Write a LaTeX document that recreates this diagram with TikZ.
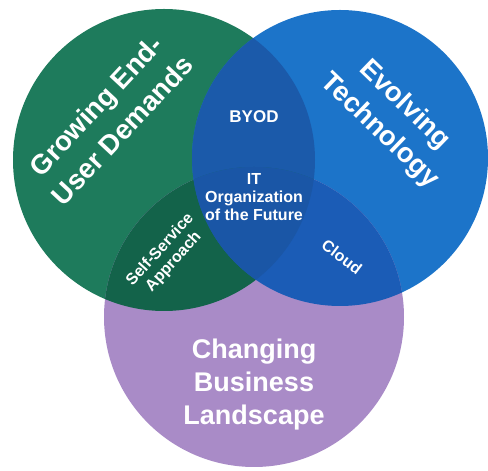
\documentclass[tikz,border=0pt]{standalone}
\usepackage{fontspec}
\setmainfont{Liberation Sans}

\definecolor{demandgreen}{HTML}{1E7B5C}
\definecolor{techblue}{HTML}{1C74C9}
\definecolor{businesspurple}{HTML}{A98BC7}
\definecolor{byodblue}{HTML}{1B5AAA}
\definecolor{selfgreen}{HTML}{13634A}
\definecolor{cloudblue}{HTML}{1B5CB6}
\definecolor{futureblue}{HTML}{1A56A6}

\begin{document}
\begin{tikzpicture}[x=1pt,y=1pt,
		biglabel/.style={text=white, font=\bfseries\fontsize{27}{33}\selectfont, align=center},
		tiltlabel/.style={text=white, font=\bfseries\fontsize{27.5}{36}\selectfont, align=center},
		smalllabel/.style={text=white, font=\bfseries\fontsize{16}{18}\selectfont, align=center}]
		\useasboundingbox (0,0) rectangle (488,471);

		\coordinate (green) at (164,311);
		\coordinate (blue) at (340,313);
		\coordinate (purple) at (254,154);

		\fill[demandgreen] (green) circle (151pt);
		\fill[techblue] (blue) circle (148pt);
		\fill[businesspurple] (purple) circle (150pt);

		% overlaps
		\begin{scope}
			\clip (green) circle (151pt);
			\fill[byodblue] (blue) circle (148pt);
			\fill[selfgreen] (purple) circle (150pt);
		\end{scope}
		\begin{scope}
			\clip (blue) circle (148pt);
			\fill[cloudblue] (purple) circle (150pt);
		\end{scope}
		\begin{scope}
			\clip (green) circle (151pt);
			\clip (blue) circle (148pt);
			\fill[futureblue] (purple) circle (150pt);
		\end{scope}

		\node[tiltlabel, rotate=47] (growing) at (109,353) {Growing End-\\User Demands};
		\node[tiltlabel, rotate=-44] (evolving) at (392,353) {Evolving\\Technology};
		\node[biglabel] (changing) at (254,86) {Changing\\Business\\Landscape};

		\node[smalllabel, font=\bfseries\fontsize{17}{18}\selectfont] (byod) at (254,354) {BYOD};
		\node[smalllabel] (future) at (254,274) {IT\\Organization\\of the Future};
		\node[smalllabel, rotate=48] (selfservice) at (167,215) {Self-Service\\Approach};
		\node[smalllabel, rotate=-37] (cloud) at (342,214) {Cloud};

	\end{tikzpicture}
\end{document}
